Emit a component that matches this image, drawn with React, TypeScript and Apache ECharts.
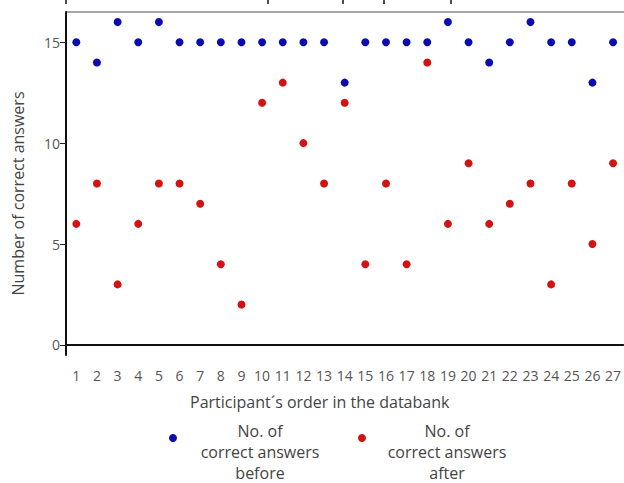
import React, { useEffect, useRef } from "react";
import * as echarts from "echarts";

const participants = Array.from({ length: 27 }, (_, i) => String(i + 1));
const before = [15, 14, 16, 15, 16, 15, 15, 15, 15, 15, 15, 15, 15, 13, 15, 15, 15, 15, 16, 15, 14, 15, 16, 15, 15, 13, 15];
const after = [6, 8, 3, 6, 8, 8, 7, 4, 2, 12, 13, 10, 8, 12, 4, 8, 4, 14, 6, 9, 6, 7, 8, 3, 8, 5, 9];
const yTicks = [0, 5, 10, 15];
const seriesNames = ["No. of\ncorrect answers\nbefore", "No. of\ncorrect answers\nafter"];
const colors = ["#0c0cae", "#d01414"];
const topMarks = [66, 268, 343, 384, 451];

const FONT = "Open Sans";

export default function App() {
  const ref = useRef<HTMLDivElement>(null);
  useEffect(() => {
    document.body.style.margin = "0";
    const chart = echarts.init(ref.current!, null, { renderer: "svg" });
    const legendItems: any[] = [];
    const legendX = [173, 362];
    const textX = [260, 447];
    seriesNames.forEach((n, i) => {
      legendItems.push({
        type: "circle",
        shape: { cx: legendX[i], cy: 438, r: 4 },
        style: { fill: colors[i] },
      });
      legendItems.push({
        type: "text",
        x: textX[i],
        y: 420,
        style: {
          text: n,
          fill: "#444",
          font: `16px "${FONT}"`,
          textAlign: "center",
          textVerticalAlign: "top",
          lineHeight: 21,
        },
      });
    });
    topMarks.forEach((x) => {
      legendItems.push({
        type: "line",
        shape: { x1: x, y1: 0, x2: x, y2: 4 },
        style: { stroke: "#111", lineWidth: 1.5 },
      });
    });
    legendItems.push({
      type: "line",
      shape: { x1: 66, y1: 12, x2: 624, y2: 12 },
      style: { stroke: "#888", lineWidth: 1.5 },
    });
    chart.setOption({
      animation: false,
      textStyle: { fontFamily: FONT },
      grid: { left: 66, top: 12, bottom: 128, right: -3, containLabel: false },
      xAxis: {
        type: "category",
        data: participants,
        boundaryGap: true,
        name: "Participant´s order in the databank",
        nameLocation: "middle",
        nameGap: 39,
        nameTextStyle: { fontSize: 16, color: "#444", fontFamily: FONT, padding: [0, 50, 0, 0] },
        axisLine: { lineStyle: { color: "#111", width: 2 } },
        axisTick: { alignWithLabel: true, length: 6, lineStyle: { color: "#222", width: 1 } },
        axisLabel: { interval: 0, fontSize: 14, color: "#555", margin: 13, fontFamily: FONT },
        splitLine: { show: false },
      },
      yAxis: {
        type: "value",
        min: -0.5,
        max: 16.5,
        name: "Number of correct answers",
        nameLocation: "middle",
        nameGap: 40,
        nameTextStyle: { fontSize: 16, color: "#444", fontFamily: FONT, padding: [0, 20, 0, 0] },
        axisLine: { show: true, lineStyle: { color: "#111", width: 2 } },
        axisTick: { show: true, length: 6, customValues: yTicks, lineStyle: { color: "#222", width: 1 } },
        axisLabel: { fontSize: 14, color: "#555", margin: 6, customValues: yTicks, fontFamily: FONT },
        splitLine: { show: false },
      },
      series: [
        {
          name: seriesNames[0],
          type: "scatter",
          data: before,
          symbol: "circle",
          symbolSize: 8,
          itemStyle: { color: colors[0], opacity: 1 },
        },
        {
          name: seriesNames[1],
          type: "scatter",
          data: after,
          symbol: "circle",
          symbolSize: 8,
          itemStyle: { color: colors[1], opacity: 1 },
        },
      ],
      graphic: legendItems,
    });
    return () => chart.dispose();
  }, []);
  return <div ref={ref} style={{ width: 624, height: 483 }} />;
}
